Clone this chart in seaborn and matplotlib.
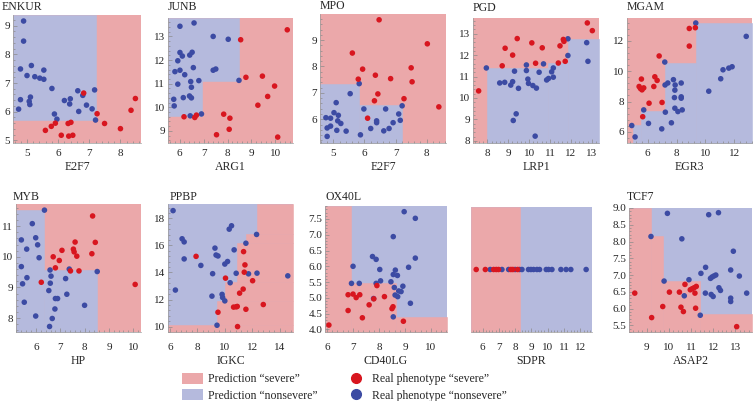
import numpy as np
import pandas as pd
import matplotlib
matplotlib.use("Agg")
import matplotlib.pyplot as plt
from matplotlib.ticker import AutoMinorLocator
from matplotlib.patches import Patch
from matplotlib.lines import Line2D
import seaborn as sns

sns.set_style("white")
plt.rcParams['font.family'] = ['Liberation Serif', 'DejaVu Serif']

RED_BG = "#eba8aa"
BLUE_BG = "#b5badd"
RED_PT = "#d8161f"
BLUE_PT = "#3c4ba3"
W, H = 753, 401

# ---- data ----
# ENKUR vs E2F7
enkur_sev_x = [6.82, 7.25, 5.59, 5.78, 5.91, 6.10, 6.32, 6.41, 6.34, 6.47, 7.49, 8.00, 8.34, 8.48]
enkur_sev_y = [6.65, 5.93, 5.35, 5.49, 5.60, 5.18, 5.59, 5.63, 5.15, 5.18, 5.59, 5.41, 6.05, 6.46]
enkur_non_x = [4.89, 4.89, 4.79, 5.14, 5.00, 5.25, 5.41, 5.54, 5.54, 4.79, 5.11, 5.07, 5.09, 4.73,
               5.80, 5.88, 5.96, 6.20, 6.39, 6.37, 6.66, 6.63, 6.79, 6.91, 7.09, 7.17, 7.20]
enkur_non_y = [9.16, 8.46, 7.49, 7.61, 7.26, 7.22, 7.17, 7.13, 7.45, 6.42, 6.51, 6.36, 6.25, 6.09,
               6.81, 5.92, 5.74, 6.39, 6.45, 6.27, 6.01, 6.73, 6.57, 6.23, 6.10, 6.76, 5.71]
enkur_rects = [(4.55, 7.20, 5.70, 9.37)]

# JUNB vs ARG1
junb_sev_x = [8.55, 8.77, 9.46, 9.97, 9.68, 9.27, 6.18, 6.63, 6.70, 7.84, 8.10, 8.07, 7.54, 10.10, 10.50]
junb_sev_y = [12.86, 11.27, 11.32, 10.90, 10.46, 10.09, 9.60, 9.57, 9.67, 9.71, 9.54, 9.07, 8.84, 8.74, 13.28]
junb_non_x = [6.01, 6.60, 7.40, 8.03, 6.01, 6.52, 6.11, 6.42, 5.92, 6.01, 6.57, 5.80, 6.21, 7.40,
              7.51, 6.80, 6.46, 6.49, 5.92, 5.75, 5.77, 6.15, 6.41, 6.49, 8.48, 6.44, 6.91]
junb_non_y = [13.43, 13.57, 13.00, 12.88, 12.32, 12.33, 12.17, 12.21, 11.97, 11.57, 11.68, 11.51, 11.38, 11.57,
              11.62, 11.13, 11.09, 10.85, 10.98, 10.34, 10.06, 10.41, 10.48, 10.40, 11.14, 9.64, 9.72]
junb_rects = [(5.51, 8.48, 11.11, 13.78), (5.51, 6.93, 9.62, 11.11)]

# MPO vs E2F7
mpo_sev_x = [6.47, 5.61, 5.94, 5.80, 6.35, 6.84, 7.50, 7.53, 6.43, 6.32, 7.27, 8.02, 8.39, 6.10]
mpo_sev_y = [9.77, 8.51, 7.90, 7.52, 7.67, 7.54, 7.95, 7.42, 6.96, 6.70, 6.78, 8.86, 6.47, 6.04]
mpo_non_x = [5.83, 5.54, 5.09, 5.98, 6.68, 7.21, 4.76, 4.91, 5.02, 5.16, 5.14, 5.24, 4.80, 4.91,
             5.11, 5.41, 4.80, 5.87, 6.20, 6.39, 6.39, 6.62, 6.79, 6.92, 7.10, 7.15]
mpo_non_y = [7.35, 6.97, 6.63, 6.39, 6.39, 6.51, 6.06, 6.04, 6.25, 6.15, 5.94, 5.84, 5.67, 5.74,
             5.58, 5.55, 5.35, 5.41, 5.65, 5.87, 5.94, 5.56, 5.65, 5.87, 6.20, 5.96]
mpo_rects = [(4.57, 5.83, 5.10, 7.35), (5.83, 7.22, 5.10, 6.53)]

# PGD vs LRP1
pgd_sev_x = [7.58, 8.71, 8.85, 9.21, 9.43, 10.13, 10.31, 10.63, 11.40, 11.48, 11.64, 11.67, 11.73, 12.79, 13.03]
pgd_sev_y = [10.33, 11.50, 12.32, 12.00, 12.77, 12.57, 11.62, 12.34, 11.63, 12.43, 12.73, 12.64, 11.71, 13.50, 13.14]
pgd_non_x = [7.95, 8.59, 8.83, 9.12, 9.21, 9.30, 9.49, 9.87, 9.87, 9.94, 9.97, 10.18, 10.35, 10.48,
             10.69, 10.84, 10.93, 11.08, 11.16, 11.16, 11.86, 11.86, 12.76, 12.82, 9.38, 9.24, 10.29]
pgd_non_y = [11.40, 10.70, 10.73, 10.60, 10.76, 11.25, 10.45, 11.54, 11.28, 10.88, 10.68, 10.58, 10.46, 11.20,
             11.59, 10.84, 10.91, 11.22, 11.40, 10.97, 12.76, 11.98, 12.58, 11.71, 9.26, 8.95, 8.22]
pgd_rects = [(8.00, 10.90, 7.90, 11.42), (10.90, 11.85, 7.90, 11.62), (11.85, 13.35, 7.90, 12.75)]

# MGAM vs EGR3
mgam_sev_x = [8.88, 9.30, 8.88, 6.79, 5.56, 6.49, 6.65, 5.40, 5.49, 5.60, 5.72, 6.42, 6.09, 6.99, 5.65]
mgam_sev_y = [12.81, 12.86, 11.65, 11.00, 9.48, 9.63, 9.39, 8.99, 8.86, 8.77, 8.90, 8.99, 7.89, 7.94, 7.00]
mgam_non_x = [9.33, 12.83, 7.18, 7.78, 7.20, 7.39, 7.90, 7.88, 8.32, 7.85, 8.32, 8.32, 7.88, 8.09,
              8.39, 7.22, 5.72, 6.05, 6.97, 7.64, 4.89, 5.12, 10.23, 11.06, 11.22, 11.62, 11.85]
mgam_non_y = [13.17, 12.29, 10.60, 9.44, 9.09, 9.22, 9.09, 8.75, 9.22, 8.26, 8.31, 8.22, 7.56, 7.34,
              7.45, 7.30, 7.45, 6.56, 6.20, 6.60, 6.42, 5.67, 8.68, 9.50, 10.09, 10.20, 10.29]
mgam_rects = [(4.98, 5.56, 5.27, 6.44), (5.56, 7.18, 5.27, 7.40), (7.18, 9.33, 5.27, 10.52),
              (9.33, 13.23, 5.27, 13.17)]

# MYB vs HP
myb_sev_x = [6.22, 6.71, 6.80, 6.96, 7.07, 7.42, 7.61, 7.54, 7.57, 7.68, 7.77, 8.33, 8.44, 8.30, 10.08]
myb_sev_y = [9.17, 10.00, 9.64, 9.88, 10.21, 9.54, 10.48, 10.25, 10.16, 10.02, 9.54, 11.33, 10.47, 10.10, 9.10]
myb_non_x = [6.35, 5.85, 5.40, 5.62, 5.99, 6.07, 6.13, 5.40, 5.63, 5.45, 5.52, 5.99, 6.58, 6.62,
             6.59, 6.53, 6.80, 6.89, 6.78, 6.67, 6.56, 7.22, 7.27, 7.37, 8.00, 8.52]
myb_non_y = [11.52, 11.08, 10.55, 10.25, 10.62, 10.39, 9.97, 9.68, 9.32, 9.12, 8.52, 8.07, 9.57, 9.37,
             9.14, 8.90, 8.64, 8.64, 8.30, 7.99, 7.73, 9.29, 8.78, 9.60, 8.42, 9.52]
myb_rects = [(5.18, 6.35, 7.55, 11.52), (6.35, 8.52, 7.55, 9.58)]

# PPBP vs IGKC
ppbp_sev_x = [7.90, 10.05, 11.37, 11.47, 11.42, 11.08, 11.34, 10.64, 10.83, 10.91, 11.54, 9.50, 10.93, 12.03, 12.81]
ppbp_sev_y = [15.19, 13.58, 15.54, 14.56, 14.02, 12.47, 12.77, 11.44, 11.46, 11.49, 11.28, 11.06, 10.00, 13.39, 11.63]
ppbp_non_x = [6.22, 6.39, 6.88, 7.03, 7.03, 8.25, 9.11, 9.06, 9.28, 9.36, 9.50, 9.80, 9.84, 10.00,
              10.00, 10.20, 10.32, 10.49, 10.39, 10.68, 10.83, 11.54, 11.73, 12.35, 12.32, 14.60, 9.43]
ppbp_non_y = [18.57, 12.70, 16.49, 16.26, 15.00, 14.52, 13.91, 12.25, 15.80, 15.29, 15.22, 12.38, 12.15, 11.90,
              14.62, 14.81, 17.20, 17.45, 13.24, 15.67, 13.94, 16.16, 13.90, 13.95, 16.81, 13.75, 10.10]
ppbp_rects = [(5.85, 14.98, 9.60, 10.15), (9.40, 14.98, 10.15, 11.92), (10.01, 14.98, 11.92, 13.32),
              (10.87, 14.98, 13.32, 16.18), (11.53, 14.98, 16.18, 16.86), (12.33, 14.98, 16.86, 19.06)]

# OX40L vs CD40LG
ox40l_sev_x = [6.07, 6.81, 6.81, 7.00, 7.12, 7.26, 7.36, 7.62, 7.80, 7.92, 8.21, 8.50, 8.54, 8.94]
ox40l_sev_y = [4.14, 5.10, 4.60, 5.12, 5.01, 5.10, 4.37, 4.78, 4.97, 5.39, 5.04, 4.66, 4.72, 4.26]
ox40l_non_x = [6.94, 7.00, 7.24, 7.75, 7.89, 8.03, 8.06, 7.89, 7.79, 8.46, 8.55, 8.55, 8.63, 8.71,
               8.59, 8.62, 8.72, 8.76, 8.85, 8.92, 8.97, 9.40, 9.40, 9.14, 9.21, 8.55]
ox40l_non_y = [5.46, 6.00, 5.46, 6.31, 6.22, 5.90, 5.54, 5.46, 4.98, 5.51, 6.94, 5.74, 5.88, 5.71,
               5.33, 5.09, 5.04, 5.22, 5.20, 5.37, 7.73, 7.52, 6.26, 5.97, 4.83, 4.40]
ox40l_rects = [(5.92, 6.94, 3.92, 7.91), (6.94, 8.65, 3.92, 5.46), (8.65, 10.62, 3.92, 4.41)]

# SDPR (one-dimensional)
sdpr_sev_x = [5.61, 6.17, 6.68, 6.84, 6.98, 7.74, 7.86, 8.15]
sdpr_non_x = [6.47, 7.19, 7.60, 8.00, 8.27, 8.42, 8.82, 8.97, 9.13, 9.34, 9.50, 9.91, 10.05,
              10.26, 10.81, 11.13, 11.42, 12.36]
sdpr_rects = [(5.29, 8.31, -1.0, 1.0)]

# TCF7 vs ASAP2
tcf7_sev_x = [8.47, 9.23, 9.73, 10.03, 10.48, 10.55, 10.66, 10.73, 10.97, 11.05, 11.14, 11.24, 11.18, 11.21, 13.06]
tcf7_sev_y = [6.46, 5.73, 6.06, 6.49, 6.49, 6.04, 5.91, 6.72, 6.56, 6.59, 6.62, 6.66, 6.46, 6.01, 5.46]
tcf7_non_x = [9.94, 9.20, 10.59, 9.79, 10.70, 10.91, 11.42, 11.45, 11.66, 11.65, 11.80, 12.24, 11.88,
              11.95, 12.03, 12.12, 11.91, 12.00, 12.26, 12.33, 12.79, 12.91, 12.79, 12.79, 13.18, 13.51]
tcf7_non_y = [8.84, 8.15, 8.08, 6.82, 6.38, 6.86, 5.80, 7.05, 7.23, 6.46, 8.80, 8.86, 6.90,
              6.94, 6.97, 7.00, 6.42, 6.36, 6.62, 6.54, 7.15, 7.71, 6.31, 6.21, 6.97, 6.46]
tcf7_rects = [(8.21, 9.20, 5.30, 9.00), (9.20, 9.75, 5.30, 8.15), (9.75, 11.42, 5.30, 6.82),
              (11.42, 13.75, 5.30, 5.84)]

# panel layout: (title, xlabel, pixel box l,t,r,b, title pos, xlim, ylim, background, ...)
panels = [
    ("ENKUR", "E2F7", (13, 15, 141, 143), (2, 7), (4.55, 8.66), (4.91, 9.37), "red",
     enkur_rects, enkur_sev_x, enkur_sev_y, enkur_non_x, enkur_non_y, [5, 6, 7, 8], [5, 6, 7, 8, 9]),
    ("JUNB", "ARG1", (168, 18, 293, 143), (168, 7), (5.51, 10.74), (8.49, 13.78), "red",
     junb_rects, junb_sev_x, junb_sev_y, junb_non_x, junb_non_y, [6, 7, 8, 9, 10], [9, 10, 11, 12, 13]),
    ("MPO", "E2F7", (320, 14, 446, 143), (320, 6), (4.57, 8.62), (5.10, 9.99), "red",
     mpo_rects, mpo_sev_x, mpo_sev_y, mpo_non_x, mpo_non_y, [5, 6, 7, 8], [6, 7, 8, 9]),
    ("PGD", "LRP1", (473, 18, 599, 143), (473, 8), (7.31, 13.35), (7.90, 13.73), "red",
     pgd_rects, pgd_sev_x, pgd_sev_y, pgd_non_x, pgd_non_y, [8, 9, 10, 11, 12, 13], [8, 9, 10, 11, 12, 13]),
    ("MGAM", "EGR3", (627, 18, 752, 143), (627, 7), (4.56, 13.23), (5.27, 13.50), "red",
     mgam_rects, mgam_sev_x, mgam_sev_y, mgam_non_x, mgam_non_y, [6, 8, 10, 12], [6, 8, 10, 12]),
    ("MYB", "HP", (16, 204, 141, 332), (13, 197), (5.18, 10.32), (7.55, 11.72), "red",
     myb_rects, myb_sev_x, myb_sev_y, myb_non_x, myb_non_y, [6, 7, 8, 9, 10], [8, 9, 10, 11]),
    ("PPBP", "IGKC", (168, 204, 293, 332), (170, 197), (5.85, 14.98), (9.60, 19.06), "blue",
     ppbp_rects, ppbp_sev_x, ppbp_sev_y, ppbp_non_x, ppbp_non_y, [6, 8, 10, 12, 14], [10, 12, 14, 16, 18]),
    ("OX40L", "CD40LG", (325, 206, 447, 332), (326, 197), (5.92, 10.62), (3.92, 7.91), "blue",
     ox40l_rects, ox40l_sev_x, ox40l_sev_y, ox40l_non_x, ox40l_non_y, [6, 7, 8, 9, 10],
     [4.0, 4.5, 5.0, 5.5, 6.0, 6.5, 7.0, 7.5]),
    ("", "SDPR", (471, 207, 592, 332), (471, 197), (5.29, 12.72), (-1.0, 1.0), "blue",
     sdpr_rects, sdpr_sev_x, None, sdpr_non_x, None, [6, 7, 8, 9, 10, 11, 12], []),
    ("TCF7", "ASAP2", (629, 208, 752, 332), (627, 197), (8.21, 13.75), (5.30, 9.00), "blue",
     tcf7_rects, tcf7_sev_x, tcf7_sev_y, tcf7_non_x, tcf7_non_y, [9, 10, 11, 12, 13],
     [5.5, 6.0, 6.5, 7.0, 7.5, 8.0, 8.5, 9.0]),
]

fig = plt.figure(figsize=(W / 100, H / 100), dpi=100)

for (title, xlabel, box, tpos, xlim, ylim, bg, rects,
     sx, sy, nx, ny, xt, yt) in panels:
    l, t, r, b = box
    row2 = t > 150
    ax = fig.add_axes([l / W, 1 - b / H, (r - l) / W, (b - t) / H])
    base = RED_BG if bg == "red" else BLUE_BG
    other = BLUE_BG if bg == "red" else RED_BG
    ax.set_facecolor(base)
    for x0, x1, y0, y1 in rects:
        ax.fill_between([x0, x1], [y0, y0], [y1, y1], color=other,
                        linewidth=0.4, edgecolor=other, zorder=0)

    if sy is None:
        sy = [0.0] * len(sx)
        ny = [0.0] * len(nx)
    df = pd.DataFrame({
        "x": list(nx) + list(sx),
        "y": list(ny) + list(sy),
        "phenotype": ["nonsevere"] * len(nx) + ["severe"] * len(sx),
    })
    sns.scatterplot(data=df, x="x", y="y", hue="phenotype",
                    palette={"severe": RED_PT, "nonsevere": BLUE_PT},
                    s=16, linewidth=0, legend=False, ax=ax, zorder=3)

    ax.set_xlim(*xlim)
    ax.set_ylim(*ylim)
    ax.set_xticks(xt)
    ax.set_xticklabels([str(v) for v in xt])
    ax.set_yticks(yt)
    if yt and isinstance(yt[0], float):
        ax.set_yticklabels([f"{v:.1f}" for v in yt])
    else:
        ax.set_yticklabels([str(v) for v in yt])
    ax.xaxis.set_minor_locator(AutoMinorLocator(5))
    if yt:
        ax.yaxis.set_minor_locator(AutoMinorLocator(5))
    ax.tick_params(which="both", direction="in", color="#8a8a8a", width=0.5,
                   labelsize=8, pad=2, bottom=True, left=bool(yt))
    ax.tick_params(axis="x", which="both", pad=8 if row2 else 4.5)
    ax.tick_params(which="major", length=3)
    ax.tick_params(which="minor", length=1.5)
    for side in ["top", "right"]:
        ax.spines[side].set_visible(False)
    for side in ["bottom", "left"]:
        ax.spines[side].set_color("#9a9a9a")
        ax.spines[side].set_linewidth(0.5)
    if not yt:
        ax.spines["left"].set_visible(False)
    ax.set_xlabel(xlabel, fontsize=8.5, labelpad=2)
    ax.set_ylabel("")
    if title:
        fig.text(tpos[0] / W, 1 - tpos[1] / H, title, fontsize=8.5,
                 ha="left", va="center")

handles = [
    Patch(facecolor=RED_BG, edgecolor="none"),
    Patch(facecolor=BLUE_BG, edgecolor="none"),
    Line2D([], [], linestyle="none", marker="o", markersize=7, color=RED_PT),
    Line2D([], [], linestyle="none", marker="o", markersize=7, color=BLUE_PT),
]
labels = ["Prediction \u201csevere\u201d", "Prediction \u201cnonsevere\u201d",
          "Real phenotype \u201csevere\u201d", "Real phenotype \u201cnonsevere\u201d"]
fig.legend(handles, labels, ncol=2, loc="upper left",
           bbox_to_anchor=(182 / W, 1 - 373 / H), frameon=False, fontsize=8.5,
           handlelength=1.75, handleheight=1.0, handletextpad=0.45,
           columnspacing=2.4, labelspacing=0.35, borderpad=0, borderaxespad=0)

fig.savefig("out.png", dpi=100)
